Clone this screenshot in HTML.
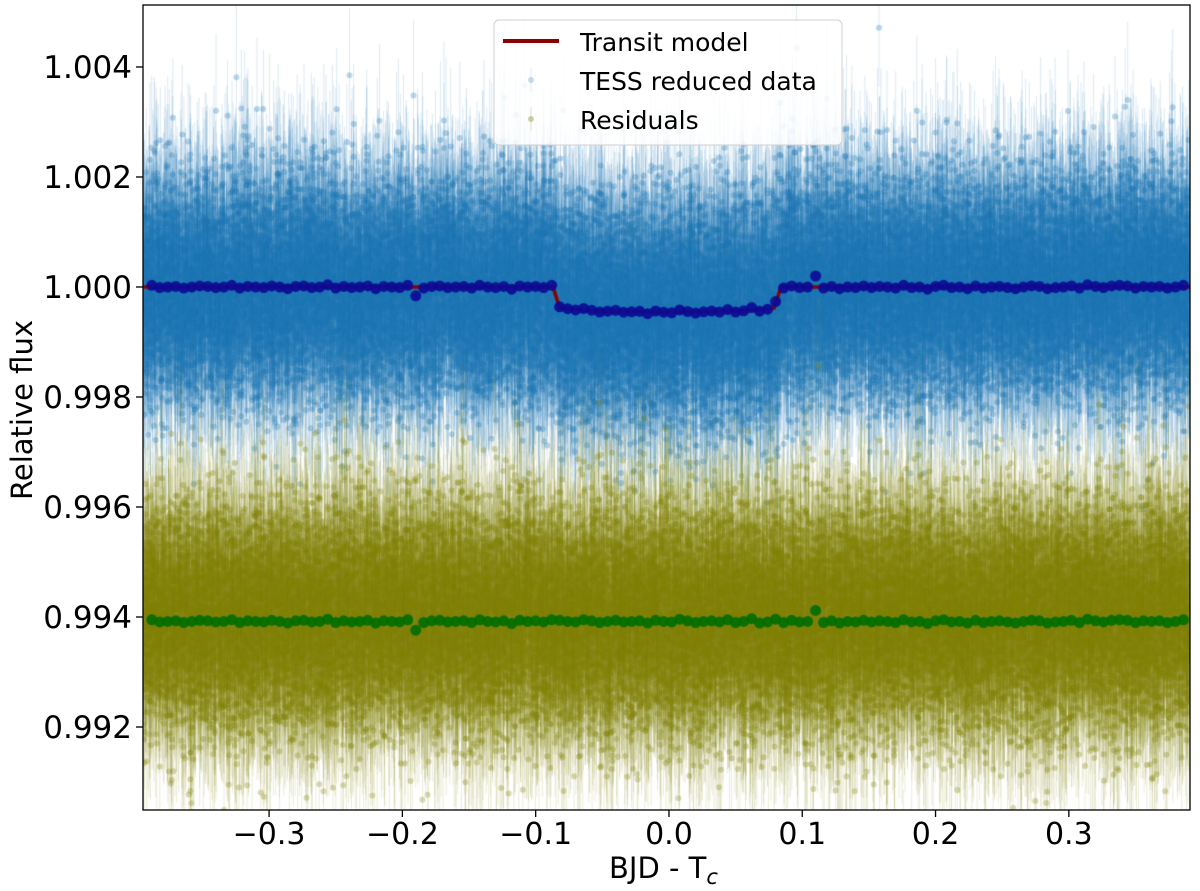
<!DOCTYPE html>
<html><head><meta charset="utf-8">
<style>
html,body{margin:0;padding:0;background:#fff;}
#wrap{position:relative;width:1200px;height:891px;overflow:hidden;font-family:"DejaVu Sans","Liberation Sans",sans-serif;}
canvas{position:absolute;left:0;top:0;}
svg{position:absolute;left:0;top:0;}
</style></head>
<body>
<div id="wrap">
<canvas id="cv" width="1200" height="891"></canvas>
<svg id="sv" width="1200" height="891"></svg>
</div>
<script>
// ---- data ----
const xTicks = [-0.3,-0.2,-0.1,0.0,0.1,0.2,0.3];
const xTickLabels = ["\u22120.3","\u22120.2","\u22120.1","0.0","0.1","0.2","0.3"];
const yTicks = [0.992,0.994,0.996,0.998,1.000,1.002,1.004];
const yTickLabels = ["0.992","0.994","0.996","0.998","1.000","1.002","1.004"];
const modelT = [-0.395,-0.087,-0.082,-0.06,-0.03,0,0.03,0.06,0.079,0.084,0.391];
const modelF = [1,1,0.99962,0.99957,0.99955,0.99954,0.99955,0.99957,0.99962,1,1];
const binStart = -0.388, binStep = 0.006;
const binResid = [3,-1,0,1,-2,0,2,1,-1,0,3,-2,1,0,-1,2,0,-3,1,2,
-1,0,4,-2,1,-1,0,2,-3,1,0,-1,3,-16,-2,1,2,-1,0,1,
-2,3,0,-1,1,-4,2,0,1,-1,3,2,0,-1,3,1,-2,0,2,-1,
0,1,-3,2,0,-1,4,1,-2,0,1,-1,3,-2,0,5,-3,-1,4,-2,
2,-1,0,20,-2,1,-3,0,-1,2,-1,1,0,-2,3,-1,0,-4,1,3,
-1,0,-3,2,-2,0,1,-1,-3,0,2,1,-3,-1,0,2,-2,4,1,-1,
2,3,2,-2,1,0,1,-2,0,3];
const residOffset = 0.99392;
const rawCount = 24000, rawSigma = 0.0010, rawErr = 0.0012;

// ---- axes ----
const L=143,R=1190,T=5,B=810;
const xMin=-0.3946,xMax=0.3909,yMin=0.990491,yMax=1.005127;
const X=v=>L+(v-xMin)/(xMax-xMin)*(R-L);
const Y=v=>B-(v-yMin)/(yMax-yMin)*(B-T);
function model(t){
  for(let i=0;i<modelT.length-1;i++){
    if(t>=modelT[i]&&t<=modelT[i+1]){const f=(t-modelT[i])/(modelT[i+1]-modelT[i]);return modelF[i]+f*(modelF[i+1]-modelF[i]);}
  }
  return 1;
}
// deterministic noise texture for raw cloud
let s=12345;
function rnd(){s|=0;s=s+0x6D2B79F5|0;let t=Math.imul(s^s>>>15,1|s);t=t+Math.imul(t^t>>>7,61|t)^t;return((t^t>>>14)>>>0)/4294967296;}
function gauss(){let u=rnd()||1e-9,v=rnd();return Math.sqrt(-2*Math.log(u))*Math.cos(2*Math.PI*v);}

const cv=document.getElementById('cv');const c=cv.getContext('2d');
c.save();c.beginPath();c.rect(L,T,R-L,B-T);c.clip();
function cloud(offsetFn,rgb){
  for(let i=0;i<rawCount;i++){
    const t=xMin+(xMax-xMin)*(i+rnd())/rawCount;
    const f=offsetFn(t)+rawSigma*gauss();
    const e=rawErr*(0.8+0.4*rnd());
    const px=X(t);
    c.strokeStyle='rgba('+rgb+',0.16)';c.lineWidth=1;
    c.beginPath();c.moveTo(px,Y(f-e));c.lineTo(px,Y(f+e));c.stroke();
    c.fillStyle='rgba('+rgb+',0.3)';
    c.beginPath();c.arc(px,Y(f),3,0,6.283);c.fill();
  }
}
cloud(model,'31,119,180');
cloud(()=>0.994,'128,128,0');
// model line
c.strokeStyle='#8b0000';c.lineWidth=3.5;c.beginPath();
for(let i=0;i<modelT.length;i++){const px=X(modelT[i]),py=Y(modelF[i]);i?c.lineTo(px,py):c.moveTo(px,py);}
c.stroke();
// binned points
for(let i=0;i<binResid.length;i++){
  const t=binStart+i*binStep;const r=binResid[i]*1e-5;
  c.fillStyle='rgba(10,10,150,0.9)';c.beginPath();c.arc(X(t),Y(model(t)+r),5.5,0,6.283);c.fill();
}
for(let i=0;i<binResid.length;i++){
  const t=binStart+i*binStep;const r=binResid[i]*1e-5;
  c.fillStyle='rgba(0,110,0,0.9)';c.beginPath();c.arc(X(t),Y(residOffset+r),5.5,0,6.283);c.fill();
}
c.restore();

// ---- SVG overlay ----
const NS='http://www.w3.org/2000/svg';const sv=document.getElementById('sv');
function el(tag,attrs,parent){const e=document.createElementNS(NS,tag);for(const k in attrs)e.setAttribute(k,attrs[k]);(parent||sv).appendChild(e);return e;}
const frame=el('rect',{x:L,y:T,width:R-L,height:B-T,fill:'none',stroke:'#000','stroke-width':1.3});


xTicks.forEach((v,i)=>{
  const g=el('g',{});
  
  
  el('line',{x1:X(v),x2:X(v),y1:B,y2:B+7,stroke:'#000','stroke-width':1.3},g);
  const t=el('text',{x:X(v),y:B+34,'text-anchor':'middle','font-size':30,fill:'#000'},g);t.textContent=xTickLabels[i];
});
yTicks.forEach((v,i)=>{
  const g=el('g',{});
  
  
  el('line',{x1:L-7,x2:L,y1:Y(v),y2:Y(v),stroke:'#000','stroke-width':1.3},g);
  const t=el('text',{x:L-11,y:Y(v)+11,'text-anchor':'end','font-size':31,fill:'#000'},g);t.textContent=yTickLabels[i];
});
const xl=el('text',{x:609,y:878,'font-size':29,fill:'#000'});


xl.innerHTML='BJD - T<tspan font-size="21" font-style="italic" dy="6">c</tspan>';
const yl=el('text',{x:32,y:410,'font-size':29,fill:'#000','text-anchor':'middle',transform:'rotate(-90 32 410)'});


yl.textContent='Relative flux';
// legend
const lg=el('g',{});


el('rect',{x:494,y:20,width:348,height:125,rx:5,fill:'rgba(255,255,255,0.85)',stroke:'#d0d0d0','stroke-width':1},lg);
el('line',{x1:503,x2:559,y1:41,y2:41,stroke:'#8b0000','stroke-width':4},lg);
el('circle',{cx:531,cy:80,r:3,fill:'rgba(31,119,180,0.25)'},lg);
el('line',{x1:531,x2:531,y1:68,y2:92,stroke:'rgba(31,119,180,0.15)'},lg);
el('circle',{cx:531,cy:119,r:3,fill:'rgba(128,128,0,0.35)'},lg);
el('line',{x1:531,x2:531,y1:107,y2:131,stroke:'rgba(128,128,0,0.2)'},lg);
const labels=['Transit model','TESS reduced data','Residuals'];const names=['legend-transit-model','legend-tess-data','legend-residuals'];
labels.forEach((s2,i)=>{
  const t=el('text',{x:580,y:51+i*39,'font-size':25,fill:'#000'},lg);
  
  
  t.textContent=s2;
});
</script>
</body></html>
